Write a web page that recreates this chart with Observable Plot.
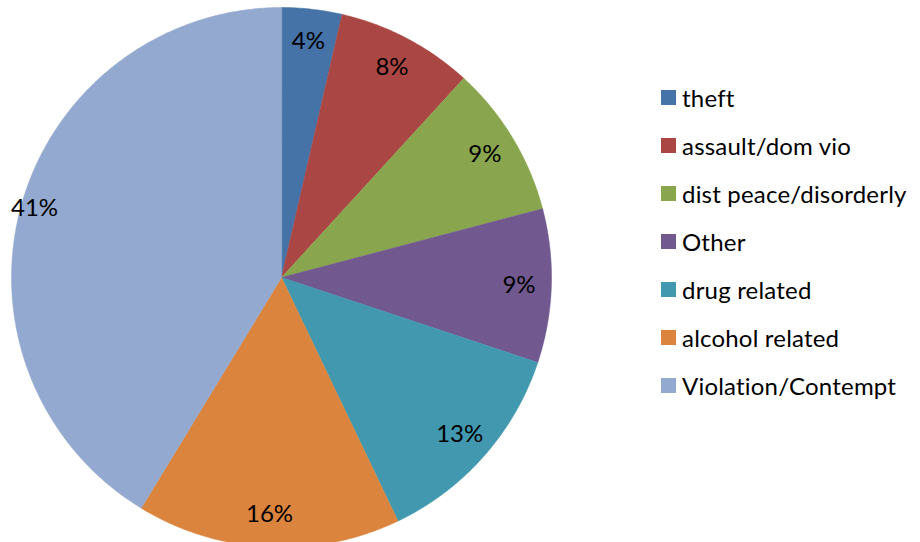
<!DOCTYPE html>
<html>
<head>
<meta charset="utf-8">
<script src="https://cdn.jsdelivr.net/npm/d3@7"></script>
<script src="https://cdn.jsdelivr.net/npm/@observablehq/plot@0.6"></script>
<style>
  html, body { margin: 0; padding: 0; background: #fff; }
  #wrap { position: relative; width: 920px; height: 542px; overflow: hidden; font-family: Lato, "Open Sans", sans-serif; }
  #legend { position: absolute; left: 661px; top: 73px; }
  .item { display: flex; align-items: center; height: 48px; font-size: 24px; color: #000; letter-spacing: 0.2px; }
  .sw { width: 15px; height: 15px; margin-right: 6px; }
</style>
</head>
<body>
<div id="wrap"><div id="chart"></div><div id="legend"></div></div>
<script>
const categories = ["theft", "assault/dom vio", "dist peace/disorderly", "Other", "drug related", "alcohol related", "Violation/Contempt"];
const shares = [3.6, 8.2, 9.1, 9.2, 12.8, 15.8, 41.3];
const labels = ["4%", "8%", "9%", "9%", "13%", "16%", "41%"];
const colors = ["#4572A7", "#AA4643", "#89A54E", "#71588F", "#4198AF", "#DB843D", "#93A9CF"];

const pie = d3.pie().sort(null).value(d => d)(shares);
const slices = [];
const texts = [];
pie.forEach((a, i) => {
  const n = Math.max(2, Math.ceil((a.endAngle - a.startAngle) / 0.01));
  slices.push({cat: categories[i], x: 0, y: 0});
  for (let k = 0; k <= n; k++) {
    const t = a.startAngle + (a.endAngle - a.startAngle) * k / n;
    slices.push({cat: categories[i], x: Math.sin(t), y: Math.cos(t)});
  }
  const m = (a.startAngle + a.endAngle) / 2;
  const lr = i === shares.length - 1 ? 0.95 : 0.88;
  texts.push({label: labels[i], x: lr * Math.sin(m), y: lr * Math.cos(m)});
});

const R = 270, cx = 281, cy = 277;
const chart = Plot.plot({
  width: 920,
  height: 542,
  margin: 0,
  x: {domain: [-1, 1], range: [cx - R, cx + R], axis: null},
  y: {domain: [-1, 1], range: [cy + R, cy - R], axis: null},
  color: {domain: categories, range: colors},
  style: {fontFamily: "Lato, 'Open Sans', sans-serif", background: "#fff"},
  marks: [
    Plot.line(slices, {x: "x", y: "y", z: "cat", fill: "cat", stroke: "cat", strokeWidth: 0.5, curve: "linear-closed"}),
    Plot.text(texts, {x: "x", y: "y", text: "label", fontSize: 24, fill: "#000"})
  ]
});
document.getElementById("chart").appendChild(chart);

const legend = document.getElementById("legend");
categories.forEach((c, i) => {
  const row = document.createElement("div");
  row.className = "item";
  row.innerHTML = `<div class="sw" style="background:${colors[i]}"></div><span>${c}</span>`;
  legend.appendChild(row);
});
</script>
</body>
</html>
